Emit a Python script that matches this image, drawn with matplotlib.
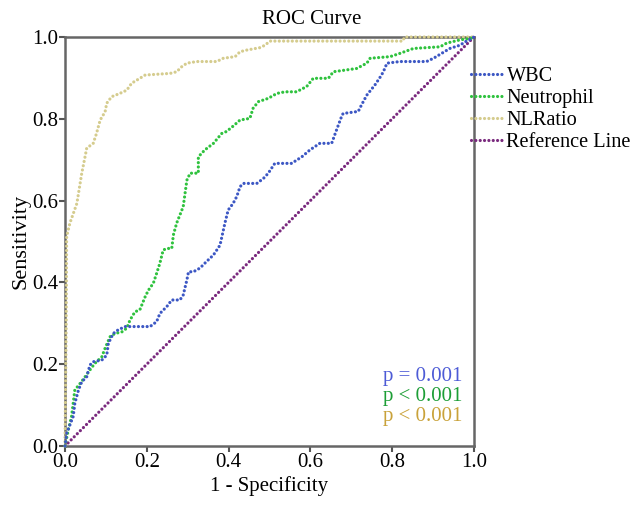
import matplotlib
matplotlib.use("Agg")
import matplotlib.pyplot as plt
from matplotlib.lines import Line2D

plt.rcParams['font.family'] = ['Liberation Serif', 'DejaVu Serif']

# ---- data ----
wbc_x = [0, 0.004, 0.020, 0.024, 0.033, 0.041, 0.053, 0.061, 0.069, 0.090, 0.102, 0.106,
         0.118, 0.130, 0.147, 0.208, 0.224, 0.232, 0.249, 0.261, 0.281, 0.289, 0.298,
         0.302, 0.314, 0.330, 0.346, 0.363, 0.379, 0.391, 0.399, 0.411, 0.420, 0.428,
         0.436, 0.469, 0.485, 0.497, 0.513, 0.554, 0.579, 0.599, 0.623, 0.652, 0.664,
         0.676, 0.680, 0.717, 0.725, 0.738, 0.758, 0.774, 0.782, 0.787, 0.819, 0.884,
         0.901, 0.921, 0.941, 0.966, 0.978, 0.990, 1.0]
wbc_y = [0, 0.031, 0.072, 0.104, 0.137, 0.157, 0.169, 0.198, 0.206, 0.210, 0.222, 0.251,
         0.275, 0.284, 0.292, 0.292, 0.304, 0.324, 0.341, 0.357, 0.357, 0.369, 0.406,
         0.426, 0.426, 0.435, 0.451, 0.467, 0.491, 0.545, 0.577, 0.593, 0.610, 0.634,
         0.642, 0.642, 0.654, 0.667, 0.691, 0.691, 0.707, 0.724, 0.740, 0.740, 0.773,
         0.805, 0.813, 0.818, 0.834, 0.858, 0.883, 0.907, 0.923, 0.936, 0.940, 0.940,
         0.948, 0.960, 0.972, 0.980, 0.988, 0.994, 1.0]

neut_x = [0, 0.008, 0.016, 0.020, 0.024, 0.037, 0.049, 0.061, 0.073, 0.090, 0.098, 0.110,
          0.122, 0.139, 0.151, 0.159, 0.171, 0.183, 0.196, 0.204, 0.216, 0.224, 0.232,
          0.240, 0.249, 0.261, 0.265, 0.273, 0.289, 0.298, 0.306, 0.326, 0.326, 0.342,
          0.363, 0.383, 0.395, 0.411, 0.428, 0.452, 0.460, 0.473, 0.497, 0.518, 0.538,
          0.566, 0.591, 0.607, 0.644, 0.656, 0.713, 0.738, 0.746, 0.795, 0.819, 0.852,
          0.917, 0.933, 0.966, 0.994, 1.0]
neut_y = [0, 0.039, 0.072, 0.104, 0.137, 0.153, 0.169, 0.186, 0.202, 0.218, 0.239, 0.267,
          0.275, 0.279, 0.288, 0.308, 0.328, 0.333, 0.365, 0.381, 0.398, 0.422, 0.447,
          0.479, 0.483, 0.483, 0.516, 0.545, 0.585, 0.650, 0.667, 0.667, 0.707, 0.724,
          0.740, 0.764, 0.769, 0.782, 0.797, 0.801, 0.826, 0.842, 0.850, 0.862, 0.866,
          0.866, 0.879, 0.899, 0.899, 0.915, 0.923, 0.936, 0.948, 0.952, 0.960, 0.972,
          0.976, 0.985, 0.993, 0.997, 1.0]

nlr_x = [0, 0.003, 0.004, 0.012, 0.029, 0.041, 0.049, 0.053, 0.069, 0.077, 0.086, 0.098,
         0.102, 0.114, 0.134, 0.151, 0.163, 0.183, 0.196, 0.257, 0.273, 0.285, 0.298,
         0.322, 0.371, 0.387, 0.416, 0.428, 0.444, 0.477, 0.489, 0.501, 0.826, 0.830, 1.0]
nlr_y = [0, 0.30, 0.512, 0.545, 0.593, 0.667, 0.707, 0.728, 0.740, 0.764, 0.797, 0.817,
         0.838, 0.854, 0.862, 0.870, 0.887, 0.899, 0.907, 0.911, 0.915, 0.927, 0.936,
         0.940, 0.940, 0.948, 0.952, 0.964, 0.968, 0.974, 0.980, 0.990, 0.990, 1.0, 1.0]

ref_x = [0, 1]
ref_y = [0, 1]

series_names = ["WBC", "Neutrophil", "NLRatio", "Reference Line"]
series_colors = ["#3c57c4", "#2fc23e", "#d5cc8e", "#7a2a7e"]
p_texts = ["p = 0.001", "p < 0.001", "p < 0.001"]
p_colors = ["#4d5bd6", "#1d9e36", "#c9a23a"]

FS = 15

# ---- figure ----
fig = plt.figure(figsize=(6.39, 5.05), dpi=100)
ax = fig.add_axes([65/639, 59/505, 409/639, 409/505])

dot = (0, (0.01, 1.35))
kw = dict(lw=2.3, linestyle=dot, dash_capstyle='round', solid_capstyle='round')
data = [(wbc_x, wbc_y), (neut_x, neut_y), (nlr_x, nlr_y), (ref_x, ref_y)]
order = [3, 2, 1, 0]
for i in order:
    xs, ys = data[i]
    ax.plot(xs, ys, color=series_colors[i], zorder=3 + (3 - i), clip_on=False, **kw)

ax.set_xlim(0, 1)
ax.set_ylim(0, 1)
ticks = [0.0, 0.2, 0.4, 0.6, 0.8, 1.0]
ax.set_xticks(ticks)
ax.set_yticks(ticks)
ax.set_xticklabels([f"{t:.1f}" for t in ticks])
ax.set_yticklabels([f"{t:.1f}" for t in ticks])
ax.tick_params(direction='out', length=4, width=1.5, color='#555555',
               labelsize=FS, pad=1)
for s in ax.spines.values():
    s.set_color('#666666')
    s.set_linewidth(1.8)

ax.set_xlabel("1 - Specificity", fontsize=FS, labelpad=3)
ax.set_ylabel("Sensitivity", fontsize=FS + 1, labelpad=1)
fig.text(312/639, 1 - 19/505, "ROC Curve", fontsize=FS, ha='center', va='center')

handles = [Line2D([0], [0], color=c, **kw) for c in series_colors]
leg = fig.legend(handles, series_names, loc='upper left',
                 bbox_to_anchor=(471/639, 1 - 67/505), frameon=False,
                 fontsize=14.6, handlelength=1.6, handletextpad=0.15,
                 labelspacing=0.13, borderaxespad=0, borderpad=0)

for k, (t, c) in enumerate(zip(p_texts, p_colors)):
    ax.text(0.972, (446 - 377 - 20 * k) / 409, t, color=c, fontsize=FS,
            ha='right', va='center', transform=ax.transAxes)

fig.savefig("out.png", dpi=100)
